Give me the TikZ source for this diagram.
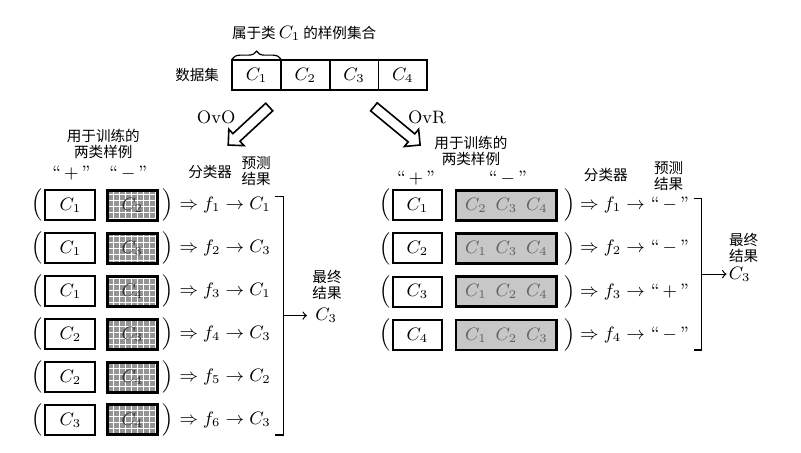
\documentclass[tikz,border=0pt]{standalone}
\usepackage{amsmath,amssymb}
\usepackage{fontspec}
\usepackage{tikz}
\newfontfamily\cjk{Noto Sans CJK SC}
\providecommand{\zh}[1]{{\cjk\fontsize{7.3}{8}\selectfont #1}}
\providecommand{\qt}[1]{``\,#1\,''}
\usetikzlibrary{shapes.arrows,decorations.pathreplacing,patterns}

\begin{document}
\begin{tikzpicture}[scale=1.000000,x=0.5pt,y=0.5pt,
  cjklabel/.style={font=\cjk\fontsize{7.3}{8}\selectfont,align=center,inner sep=0pt},
  mathlabel/.style={font=\fontsize{9}{10.8}\selectfont,inner sep=0pt},
  cell/.style={draw,line width=0.9pt,minimum width=24.4pt,minimum height=15pt,inner sep=0pt,outer sep=0pt,font=\fontsize{9}{10.8}\selectfont},
  posbox/.style={draw,line width=1pt,minimum width=25pt,minimum height=15pt,inner sep=0pt,font=\fontsize{9}{10.8}\selectfont},
  negbox/.style={preaction={fill=black!42},pattern=grid,pattern color=white,draw,line width=1.5pt,text=black!80,minimum width=25pt,minimum height=15pt,inner sep=0pt,font=\fontsize{9}{10.8}\selectfont},
  restbox/.style={fill=black!22,draw,line width=1.4pt,text=black!62,minimum width=50.5pt,minimum height=15pt,inner sep=0pt,font=\fontsize{9}{10.8}\selectfont},
  hollowarrow/.style={single arrow,draw,fill=white,line width=0.8pt,minimum height=#1,single arrow head extend=3pt,inner xsep=0pt,inner ysep=2.2pt,sloped,allow upside down},
  bracket/.style={line width=0.6pt}]
\filldraw[color=white] (0.000000, 0.000000) rectangle (801.000000, -452.000000);
% Drawing data set
\node[cjklabel] (setname) at (197.000000, -75.000000) {数据集};
\node[cell] (c1) at (256.400000, -75.000000) {$C_1$};
\node[cell] (c2) at (305.200000, -75.000000) {$C_2$};
\node[cell] (c3) at (354.000000, -75.000000) {$C_3$};
\node[cell] (c4) at (402.800000, -75.000000) {$C_4$};
\draw[line width=0.6pt,decorate,decoration={brace,amplitude=4pt,raise=0.6pt}] (c1.north west) -- (c1.north east);
\node[mathlabel] (settitle) at (304.000000, -33.000000) {\zh{属于类}\,$C_1$\,\zh{的样例集合}};
% Done with data set; drawing split arrows
\coordinate (ovotail) at (271.000000, -105.000000);
\coordinate (ovotip) at (230.000000, -143.000000);
\coordinate (ovrtail) at (372.000000, -105.000000);
\coordinate (ovrtip) at (418.000000, -143.000000);
\path (ovotail) -- node[hollowarrow=28pt] {} (ovotip);
\path (ovrtail) -- node[hollowarrow=30pt] {} (ovrtip);
\node[mathlabel] (ovo) at (216.000000, -117.000000) {OvO};
\node[mathlabel] (ovr) at (427.000000, -117.000000) {OvR};
% Left panel: headings
\node[cjklabel] (lhead) at (103.000000, -143.500000) {用于训练的\\两类样例};
\node[mathlabel] (lplus) at (71.000000, -173.000000) {\qt{$+$}};
\node[mathlabel] (lminus) at (128.000000, -173.000000) {\qt{$-$}};
\node[cjklabel] (lclf) at (210.000000, -172.000000) {分类器};
\node[cjklabel] (lpred) at (256.000000, -170.500000) {预测\\结果};
% Line 1: C1 vs C2
\node[mathlabel] (l1a) at (37.000000, -205.000000) {$\Big($};
\node[posbox] (l1p) at (70.000000, -205.000000) {$C_1$};
\node[negbox] (l1n) at (132.000000, -205.000000) {$C_2$};
\node[mathlabel] (l1b) at (168.000000, -205.000000) {$\Big)$};
\node[mathlabel,anchor=west] (l1r) at (179.000000, -205.000000) {$\Rightarrow f_1 \rightarrow C_1$};
% Line 2: C1 vs C3
\node[mathlabel] (l2a) at (37.000000, -248.000000) {$\Big($};
\node[posbox] (l2p) at (70.000000, -248.000000) {$C_1$};
\node[negbox] (l2n) at (132.000000, -248.000000) {$C_3$};
\node[mathlabel] (l2b) at (168.000000, -248.000000) {$\Big)$};
\node[mathlabel,anchor=west] (l2r) at (179.000000, -248.000000) {$\Rightarrow f_2 \rightarrow C_3$};
% Line 3: C1 vs C4
\node[mathlabel] (l3a) at (37.000000, -291.000000) {$\Big($};
\node[posbox] (l3p) at (70.000000, -291.000000) {$C_1$};
\node[negbox] (l3n) at (132.000000, -291.000000) {$C_4$};
\node[mathlabel] (l3b) at (168.000000, -291.000000) {$\Big)$};
\node[mathlabel,anchor=west] (l3r) at (179.000000, -291.000000) {$\Rightarrow f_3 \rightarrow C_1$};
% Line 4: C2 vs C3
\node[mathlabel] (l4a) at (37.000000, -334.000000) {$\Big($};
\node[posbox] (l4p) at (70.000000, -334.000000) {$C_2$};
\node[negbox] (l4n) at (132.000000, -334.000000) {$C_3$};
\node[mathlabel] (l4b) at (168.000000, -334.000000) {$\Big)$};
\node[mathlabel,anchor=west] (l4r) at (179.000000, -334.000000) {$\Rightarrow f_4 \rightarrow C_3$};
% Line 5: C2 vs C4
\node[mathlabel] (l5a) at (37.000000, -377.000000) {$\Big($};
\node[posbox] (l5p) at (70.000000, -377.000000) {$C_2$};
\node[negbox] (l5n) at (132.000000, -377.000000) {$C_4$};
\node[mathlabel] (l5b) at (168.000000, -377.000000) {$\Big)$};
\node[mathlabel,anchor=west] (l5r) at (179.000000, -377.000000) {$\Rightarrow f_5 \rightarrow C_2$};
% Line 6: C3 vs C4
\node[mathlabel] (l6a) at (37.000000, -420.000000) {$\Big($};
\node[posbox] (l6p) at (70.000000, -420.000000) {$C_3$};
\node[negbox] (l6n) at (132.000000, -420.000000) {$C_4$};
\node[mathlabel] (l6b) at (168.000000, -420.000000) {$\Big)$};
\node[mathlabel,anchor=west] (l6r) at (179.000000, -420.000000) {$\Rightarrow f_6 \rightarrow C_3$};
% Left panel: final result
\coordinate (lbtop) at (283.000000, -196.000000);
\coordinate (lbbot) at (283.000000, -435.000000);
\coordinate (lbmid) at (283.000000, -315.500000);
\draw[bracket] (lbtop) ++(-8.000000, 0.000000) -- (lbtop) -- (lbbot) -- ++(-8.000000, 0.000000);
\node[cjklabel] (lfinal) at (327.000000, -285.000000) {最终\\结果};
\node[mathlabel] (lres) at (326.000000, -315.500000) {$C_3$};
\draw[bracket,->,shorten >=4pt] (lbmid) -- (lres);
% Right panel: headings
\node[cjklabel] (rhead) at (471.000000, -150.500000) {用于训练的\\两类样例};
\node[mathlabel] (rplus) at (416.000000, -178.000000) {\qt{$+$}};
\node[mathlabel] (rminus) at (508.000000, -178.000000) {\qt{$-$}};
\node[cjklabel] (rclf) at (606.000000, -175.000000) {分类器};
\node[cjklabel] (rpred) at (669.000000, -175.500000) {预测\\结果};
% Line 1: C1 vs rest
\node[mathlabel] (r1a) at (385.000000, -205.000000) {$\Big($};
\node[posbox,minimum width=24.5pt] (r1p) at (417.500000, -205.000000) {$C_1$};
\node[restbox] (r1n) at (506.500000, -205.000000) {$C_2\enspace C_3\enspace C_4$};
\node[mathlabel] (r1b) at (570.000000, -205.000000) {$\Big)$};
\node[mathlabel,anchor=west] (r1r) at (580.000000, -205.000000) {$\Rightarrow f_1 \rightarrow$ \qt{$-$}};
% Line 2: C2 vs rest
\node[mathlabel] (r2a) at (385.000000, -248.300000) {$\Big($};
\node[posbox,minimum width=24.5pt] (r2p) at (417.500000, -248.300000) {$C_2$};
\node[restbox] (r2n) at (506.500000, -248.300000) {$C_1\enspace C_3\enspace C_4$};
\node[mathlabel] (r2b) at (570.000000, -248.300000) {$\Big)$};
\node[mathlabel,anchor=west] (r2r) at (580.000000, -248.300000) {$\Rightarrow f_2 \rightarrow$ \qt{$-$}};
% Line 3: C3 vs rest
\node[mathlabel] (r3a) at (385.000000, -291.700000) {$\Big($};
\node[posbox,minimum width=24.5pt] (r3p) at (417.500000, -291.700000) {$C_3$};
\node[restbox] (r3n) at (506.500000, -291.700000) {$C_1\enspace C_2\enspace C_4$};
\node[mathlabel] (r3b) at (570.000000, -291.700000) {$\Big)$};
\node[mathlabel,anchor=west] (r3r) at (580.000000, -291.700000) {$\Rightarrow f_3 \rightarrow$ \qt{$+$}};
% Line 4: C4 vs rest
\node[mathlabel] (r4a) at (385.000000, -335.000000) {$\Big($};
\node[posbox,minimum width=24.5pt] (r4p) at (417.500000, -335.000000) {$C_4$};
\node[restbox] (r4n) at (506.500000, -335.000000) {$C_1\enspace C_2\enspace C_3$};
\node[mathlabel] (r4b) at (570.000000, -335.000000) {$\Big)$};
\node[mathlabel,anchor=west] (r4r) at (580.000000, -335.000000) {$\Rightarrow f_4 \rightarrow$ \qt{$-$}};
% Right panel: final result
\coordinate (rbtop) at (702.000000, -198.000000);
\coordinate (rbbot) at (702.000000, -350.000000);
\coordinate (rbmid) at (702.000000, -274.000000);
\draw[bracket] (rbtop) ++(-8.000000, 0.000000) -- (rbtop) -- (rbbot) -- ++(-8.000000, 0.000000);
\node[cjklabel] (rfinal) at (744.000000, -248.000000) {最终\\结果};
\node[mathlabel] (rres) at (740.000000, -274.000000) {$C_3$};
\draw[bracket,->,shorten >=1pt] (rbmid) -- (rres);
% Done with panels
\end{tikzpicture}
\end{document}
